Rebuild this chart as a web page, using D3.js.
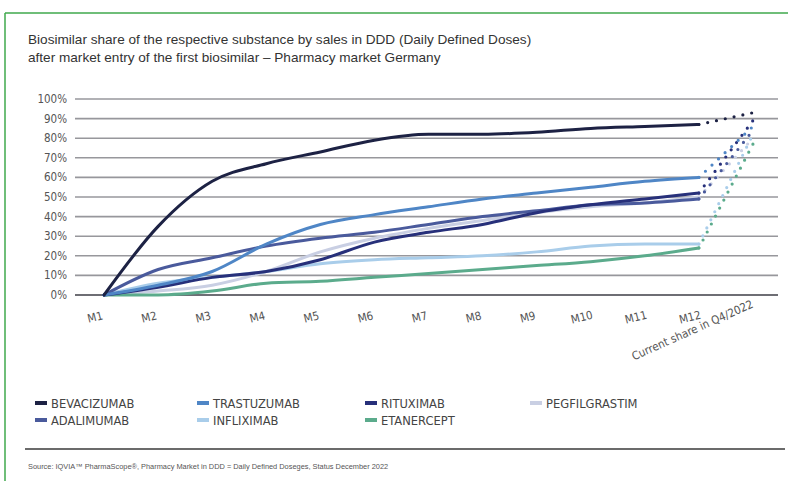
<!DOCTYPE html>
<html>
<head>
<meta charset="utf-8">
<script src="https://cdn.jsdelivr.net/npm/d3@7"></script>
<style>
  body { margin: 0; background: #fff; }
  svg { display: block; }
</style>
</head>
<body>
<script>
var months = ["M1","M2","M3","M4","M5","M6","M7","M8","M9","M10","M11","M12"];
var currentLabel = "Current share in Q4/2022";
var yTicks = [0,10,20,30,40,50,60,70,80,90,100];

var bevacizumab   = [0,35,58,67,73,79,82,82,83,85,86,87];
var trastuzumab   = [0,5,12,26,36,41,45,49,52,55,58,60];
var rituximab     = [0,4,9,12,18,27,32,36,42,46,49,52];
var adalimumab    = [0,13,19,25,29,32,36,40,43,46,47,49];
var pegfilgrastim = [0,2,5,12,22,29,34,38,42,45,47,50];
var infliximab    = [0,6,9,12,16,18,19,20,22,25,26,26];
var etanercept    = [0,0,2,6,7,9,11,13,15,17,20,24];

var names = ["BEVACIZUMAB","TRASTUZUMAB","RITUXIMAB","PEGFILGRASTIM","ADALIMUMAB","INFLIXIMAB","ETANERCEPT"];
var colors = ["#1d2244","#4f86c6","#27307a","#c9cfe3","#4a5a9c","#a9cdea","#5bab8c"];
var seriesValues = [bevacizumab,trastuzumab,rituximab,pegfilgrastim,adalimumab,infliximab,etanercept];
// current share in Q4/2022 (end of the dotted links), same order as names
var currentShare = [93,86,89,80,84,82,77];

// draw order (back to front)
var drawOrder = [3,5,6,4,2,1,0];

var W = 788, H = 481;
var svg = d3.select("body").append("svg").attr("width", W).attr("height", H);

// green frame
svg.append("line").attr("x1",5).attr("x2",W).attr("y1",13).attr("y2",13)
  .attr("stroke","#3fa84c").attr("stroke-width",1.5);
svg.append("line").attr("x1",5).attr("x2",5).attr("y1",13).attr("y2",H)
  .attr("stroke","#3fa84c").attr("stroke-width",1.5);

// title
var title = svg.append("text").attr("x",28).attr("y",44)
  .style("font-family","'Liberation Sans', Arial, sans-serif").style("font-size","13.6px").attr("fill","#333");
title.append("tspan").attr("x",28).attr("dy",0).text("Biosimilar share of the respective substance by sales in DDD (Daily Defined Doses)");
title.append("tspan").attr("x",28).attr("dy",18).text("after market entry of the first biosimilar \u2013 Pharmacy market Germany");

var x = d3.scalePoint().domain(months.concat([currentLabel])).range([77,780]).padding(0.5);
var y = d3.scaleLinear().domain([0,100]).range([295,99]);

// grid
svg.append("g").selectAll("line").data(yTicks).enter().append("line")
  .attr("x1",75).attr("x2",778)
  .attr("y1",function(d){return y(d);}).attr("y2",function(d){return y(d);})
  .attr("stroke",function(d){return d===0 ? "#6e6e74" : "#97979c";})
  .attr("stroke-width",function(d){return d===0 ? 2.2 : 1.6;});

// y labels
svg.append("g").selectAll("text").data(yTicks).enter().append("text")
  .attr("x",67).attr("y",function(d){return y(d)+4;})
  .attr("text-anchor","end")
  .style("font-family","'DejaVu Sans Condensed', 'DejaVu Sans', sans-serif").style("font-size","11.5px")
  .attr("fill","#555")
  .text(function(d){return d+"%";});

// x labels
svg.append("g").selectAll("text").data(months).enter().append("text")
  .attr("transform",function(d){return "translate("+(x(d)-8)+",321) rotate(-14)";})
  .attr("text-anchor","middle")
  .style("font-family","'DejaVu Sans Condensed', 'DejaVu Sans', sans-serif").style("font-size","11.5px")
  .attr("fill","#555")
  .text(function(d){return d;});
svg.append("text")
  .attr("transform","translate("+(x(currentLabel)+1)+",307) rotate(-24)")
  .attr("text-anchor","end")
  .style("font-family","'DejaVu Sans Condensed', 'DejaVu Sans', sans-serif").style("font-size","11.5px")
  .attr("fill","#555")
  .text(currentLabel);

var line = d3.line()
  .x(function(d,i){return x(months[i]);})
  .y(function(d){return y(d);})
  .curve(d3.curveMonotoneX);

var g = svg.append("g");
drawOrder.forEach(function(k){
  var vals = seriesValues[k];
  // dotted link to current share
  g.append("line")
    .attr("x1",x("M12")).attr("y1",y(vals[vals.length-1]))
    .attr("x2",x(currentLabel)).attr("y2",y(currentShare[k]))
    .attr("stroke",colors[k]).attr("stroke-width",3.2)
    .attr("stroke-linecap","round").attr("stroke-dasharray","0,9");
  g.append("path").datum(vals)
    .attr("d",line).attr("fill","none")
    .attr("stroke",colors[k]).attr("stroke-width",3)
    .attr("stroke-linecap","round").attr("stroke-linejoin","round");
});

// legend
var legX = [35,197,365,530];
var legY = [404,421];
var leg = svg.append("g").selectAll("g").data(names).enter().append("g")
  .attr("transform",function(d,i){return "translate("+legX[i%4]+","+legY[Math.floor(i/4)]+")";});
leg.append("rect").attr("x",0).attr("y",-3).attr("width",12).attr("height",4)
  .attr("fill",function(d,i){return colors[i];});
leg.append("text").attr("x",16).attr("y",4)
  .style("font-family","'DejaVu Sans Condensed', 'DejaVu Sans', sans-serif").style("font-size","12.8px")
  .attr("fill","#444")
  .text(function(d){return d;});

// separator and source
svg.append("line").attr("x1",25).attr("x2",785).attr("y1",449).attr("y2",449)
  .attr("stroke","#6b6b6b").attr("stroke-width",2);
svg.append("text").attr("x",28).attr("y",469)
  .style("font-family","'Liberation Sans', Arial, sans-serif").style("font-size","7.4px")
  .attr("fill","#555")
  .text("Source: IQVIA\u2122 PharmaScope\u00AE, Pharmacy Market in DDD = Daily Defined Doseges, Status December 2022");
</script>
</body>
</html>
